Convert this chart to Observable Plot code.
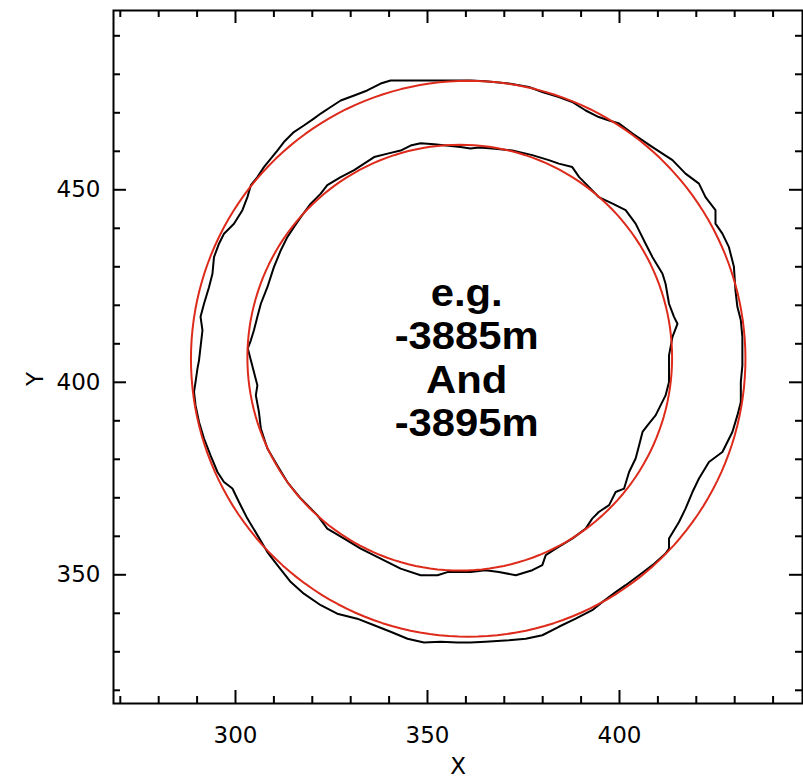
<!DOCTYPE html>
<html><head><meta charset="utf-8">
<script src="https://cdn.jsdelivr.net/npm/d3@7"></script>
<script src="https://cdn.jsdelivr.net/npm/@observablehq/plot@0.6"></script>
<style>body{margin:0;background:#fff} svg{display:block}</style>
</head><body><div id="chart"></div>
<script>
// Measured contour (outer, -3885m)
const outerX = [361.2,340.4,337.8,334.3,330.9,327.4,324.8,322.2,320.4,317.8,
315.2,312.6,310.9,309.2,307.4,305.7,304.0,303.1,301.8,299.6,
297.0,295.7,294.4,294.0,293.1,291.8,290.9,291.4,290.9,290.5,
290.1,289.6,289.2,289.6,290.5,291.8,293.5,295.3,297.0,299.2,
300.9,303.1,305.7,308.3,310.9,314.4,317.8,322.2,326.5,331.7,
336.1,340.4,344.8,349.1,353.4,357.8,361.2,365.1,371.2,375.6,
379.9,384.2,388.6,392.9,395.5,399.0,401.6,405.1,408.6,412.0,
412.9,412.9,415.5,417.2,419.0,420.7,423.3,426.8,429.4,430.7,
431.6,431.6,432.0,432.0,431.6,430.7,430.2,429.8,428.5,426.8,
425.0,425.0,422.4,420.7,417.2,413.8,411.2,408.6,403.4,399.9,
397.3,394.6,391.2,387.7,384.2,379.9,376.4,371.2,365.1,361.2];
const outerY = [478.4,478.4,477.6,475.8,474.5,473.2,471.5,469.8,468.5,466.7,
465.0,462.4,460.2,458.1,455.9,453.3,451.2,448.1,444.7,441.2,
438.6,436.0,432.5,428.2,424.7,420.4,417.0,413.5,409.2,405.7,
403.6,400.1,397.5,394.0,389.7,385.4,381.0,376.7,374.1,372.4,
368.9,364.6,360.3,355.9,352.5,348.1,345.1,342.1,339.9,338.6,
336.9,335.2,333.4,332.4,332.6,332.4,332.4,332.6,333.0,333.4,
334.3,336.5,338.6,340.8,342.9,345.5,347.3,349.9,352.5,355.5,
356.8,359.4,363.7,367.2,371.5,375.0,379.3,381.9,387.1,391.4,
394.9,400.1,404.4,411.8,416.1,419.6,423.9,430.0,435.1,438.6,
441.2,444.7,448.1,451.6,454.2,457.7,459.4,461.1,464.6,467.2,
468.0,468.9,470.6,472.8,474.1,475.4,476.7,477.6,478.2,478.4];
// Measured contour (inner, -3895m)
const innerX = [361.2,358.6,351.7,348.2,345.6,343.0,339.6,336.1,333.5,330.9,
327.4,323.9,322.2,319.6,317.0,315.2,313.5,311.8,310.0,308.3,
306.6,305.7,304.8,304.0,303.2,304.8,305.7,305.3,306.1,306.6,
308.3,310.9,313.5,317.0,321.3,323.9,328.3,332.6,337.8,343.0,
348.2,352.6,355.2,361.2,365.1,368.6,373.0,377.3,379.9,380.8,
383.4,387.7,391.2,392.9,394.6,397.3,399.0,401.2,402.5,404.2,
405.1,406.0,407.3,409.4,412.0,412.9,412.9,413.8,415.1,414.2,
412.9,412.0,411.2,408.6,406.8,404.2,401.6,398.2,394.6,392.1,
389.5,387.7,384.2,381.6,377.3,372.1,366.9,363.4,361.2];
const innerY = [460.7,461.1,461.8,462.1,461.5,460.2,459.4,458.5,456.8,455.1,
453.3,451.2,449.0,446.4,442.9,440.3,437.7,434.3,429.9,424.7,
420.4,417.0,413.5,410.9,408.8,402.7,399.2,396.6,392.3,388.0,
382.8,378.4,374.1,369.8,365.5,362.0,359.4,356.8,354.2,351.6,
349.9,349.9,350.7,350.7,351.2,350.7,349.9,351.2,352.5,355.1,
356.8,359.4,362.0,364.6,366.3,368.1,371.5,372.4,376.7,380.2,
383.6,387.1,388.8,391.4,396.6,400.1,407.0,411.8,415.2,417.0,
420.4,425.6,428.2,432.5,436.0,441.2,444.7,446.4,448.1,450.7,
453.3,455.9,456.8,457.7,459.0,460.2,460.7,461.0,460.7];
// Fitted circles (outer, inner)
const fitCenterX = [360.6, 358.4];
const fitCenterY = [406.1, 406.4];
const fitRadius = [72.2, 55.3];
// Axes
const xDomain = [268.23, 447.66];
const yDomain = [316.57, 496.57];
const xMajorTicks = [300, 350, 400];
const yMajorTicks = [350, 400, 450];
const xMinorTicks = [270,280,290,310,320,330,340,360,370,380,390,410,420,430,440];
const yMinorTicks = [320,330,340,360,370,380,390,410,420,430,440,460,470,480,490];
const xTitle = "X";
const yTitle = "Y";
const textLines = ["e.g.", "-3885m", "And", "-3895m"];
const textAt = [360.2, 406.5];

const W = 803, H = 779, mL = 113, mR = 1, mT = 10, mB = 76;
const pw = W - mL - mR, ph = H - mT - mB;
const majorLen = 13, minorLen = 7;

const contour = (xs, ys, id) => xs.map((x, i) => ({x, y: ys[i], id}));
const black = [...contour(outerX, outerY, "outer"), ...contour(innerX, innerY, "inner")];
const red = [];
fitRadius.forEach((r, k) => {
  for (let a = 0; a <= 360; a += 2) {
    const t = a * Math.PI / 180;
    red.push({x: fitCenterX[k] + r * Math.cos(t), y: fitCenterY[k] + r * Math.sin(t), id: k});
  }
});

const font = "DejaVu Sans, sans-serif";

const plot = Plot.plot({
  width: W, height: H,
  marginLeft: mL, marginRight: mR, marginTop: mT, marginBottom: mB,
  x: {domain: xDomain, axis: null},
  y: {domain: yDomain, axis: null},
  style: {background: "#fff", fontFamily: font},
  marks: [
    Plot.line(black, {x: "x", y: "y", z: "id", stroke: "#000", strokeWidth: 2, curve: "linear"}),
    Plot.line(red, {x: "x", y: "y", z: "id", stroke: "#dd2a1b", strokeWidth: 2, curve: "linear"}),
    // inward tick marks
    Plot.ruleX(xMajorTicks, {x: d => d, insetTop: ph - majorLen, stroke: "#000", strokeWidth: 2}),
    Plot.ruleX(xMinorTicks, {x: d => d, insetTop: ph - minorLen, stroke: "#000", strokeWidth: 2}),
    Plot.ruleX(xMajorTicks, {x: d => d, insetBottom: ph - majorLen, stroke: "#000", strokeWidth: 2}),
    Plot.ruleX(xMinorTicks, {x: d => d, insetBottom: ph - minorLen, stroke: "#000", strokeWidth: 2}),
    Plot.ruleY(yMajorTicks, {y: d => d, insetRight: pw - majorLen, stroke: "#000", strokeWidth: 2}),
    Plot.ruleY(yMinorTicks, {y: d => d, insetRight: pw - minorLen, stroke: "#000", strokeWidth: 2}),
    Plot.ruleY(yMajorTicks, {y: d => d, insetLeft: pw - majorLen, stroke: "#000", strokeWidth: 2}),
    Plot.ruleY(yMinorTicks, {y: d => d, insetLeft: pw - minorLen, stroke: "#000", strokeWidth: 2}),
    Plot.frame({stroke: "#000", strokeWidth: 2}),
    Plot.axisX(xMajorTicks, {anchor: "bottom", tickSize: 0, tickPadding: 23, fontSize: 23, fontFamily: font, label: null, fill: "#000"}),
    Plot.axisY(yMajorTicks, {anchor: "left", tickSize: 0, tickPadding: 13, fontSize: 23, fontFamily: font, label: null, fill: "#000"}),
    Plot.text([xTitle], {frameAnchor: "bottom", dy: 63, fontSize: 23, fontFamily: font, fill: "#000", lineAnchor: "middle"}),
    Plot.text([yTitle], {frameAnchor: "left", dx: -78, dy: 29, rotate: -90, fontSize: 23, fontFamily: font, fill: "#000", lineAnchor: "middle"}),
    Plot.text([textLines.join("\n")], {x: () => textAt[0], y: () => textAt[1], fontSize: 38, fontWeight: "bold",
      fontFamily: "Liberation Sans, Arial, sans-serif", fill: "#000", lineAnchor: "middle", lineHeight: 1.14, textAnchor: "middle"})
  ]
});
// the annotation in the original is rendered slightly wide
d3.select(plot).selectAll("text").filter(function() { return this.textContent.includes("3885"); })
  .each(function() {
    const t = this.getAttribute("transform") || "";
    this.setAttribute("transform", (t + " scale(1.1,1)").trim());
  });
document.getElementById("chart").appendChild(plot);
</script>
</body></html>
